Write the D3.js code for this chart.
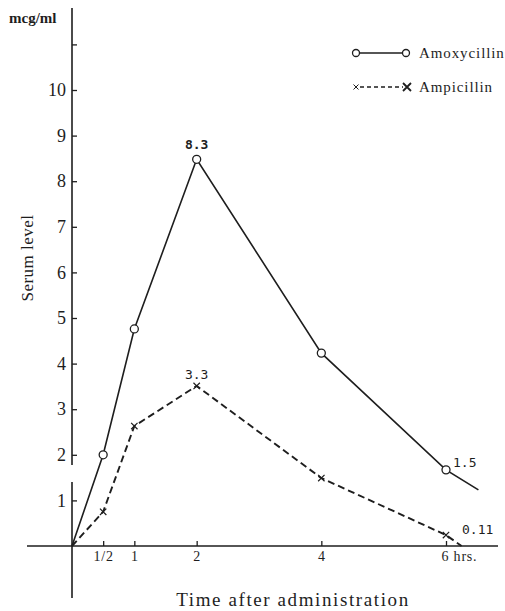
<!DOCTYPE html>
<html>
<head>
<meta charset="utf-8">
<script src="https://cdn.jsdelivr.net/npm/d3@7"></script>
<style>
  body { margin: 0; background: #fff; }
  svg { display: block; font-family: "Liberation Serif", "DejaVu Serif", serif; }
</style>
</head>
<body>
<svg id="chart" width="505" height="611"></svg>
<script>
// hours after administration and serum level (mcg/ml)
var amoxHours = [0, 0.5, 1, 2, 4, 6, 6.52];
var amoxLevel = [0, 2.0, 4.76, 8.48, 4.23, 1.67, 1.23];
var ampHours = [0, 0.5, 1, 2, 4, 6, 6.25];
var ampLevel = [0, 0.75, 2.63, 3.51, 1.49, 0.24, 0];

var xTicks = [0.5, 1, 2, 4, 6];
var xTickLabels = ['1/2', '1', '2', '4', '6 hrs.'];
var yTicks = [1, 2, 3, 4, 5, 6, 7, 8, 9, 10, 11];

// annotations: [hour, level, text]
var amoxNotes = [[2, 8.48, '8.3'], [6, 1.67, '1.5']];
var ampNotes = [[2, 3.51, '3.3'], [6, 0.24, '0.11']];

var ink = '#1e1e1e';

var x = d3.scaleLinear().domain([0, 6]).range([72, 446]);
var y = d3.scaleLinear().domain([0, 10]).range([546, 90]);

var svg = d3.select('#chart');

// y axis line, with the small break between 1 and 2
svg.append('line')
    .attr('x1', x(0)).attr('x2', x(0))
    .attr('y1', 8).attr('y2', 465)
    .attr('stroke', ink).attr('stroke-width', 1.6);
svg.append('line')
    .attr('x1', x(0)).attr('x2', x(0))
    .attr('y1', 482).attr('y2', 598)
    .attr('stroke', ink).attr('stroke-width', 1.6);

// x axis line
svg.append('line')
    .attr('x1', 27).attr('x2', 498)
    .attr('y1', y(0)).attr('y2', y(0))
    .attr('stroke', ink).attr('stroke-width', 1.6);

var yAxis = svg.append('g')
    .attr('transform', 'translate(' + x(0) + ',0)')
    .call(d3.axisLeft(y)
        .tickValues(yTicks)
        .tickSizeInner(-5)
        .tickSizeOuter(0)
        .tickPadding(6)
        .tickFormat(function(d) { return d === 11 ? '' : d; }));
yAxis.select('.domain').remove();
yAxis.selectAll('line').attr('stroke', ink).attr('stroke-width', 1.3);
yAxis.selectAll('text')
    .attr('font-family', '"Liberation Serif", serif')
    .attr('font-size', 18)
    .attr('fill', ink);

var xAxis = svg.append('g')
    .attr('transform', 'translate(0,' + y(0) + ')')
    .call(d3.axisBottom(x)
        .tickValues(xTicks)
        .tickSizeInner(-5)
        .tickSizeOuter(0)
        .tickPadding(5)
        .tickFormat(function(d, i) { return xTickLabels[i]; }));
xAxis.select('.domain').remove();
xAxis.selectAll('line').attr('stroke', ink).attr('stroke-width', 1.3);
xAxis.selectAll('text')
    .attr('font-family', '"Liberation Serif", serif')
    .attr('font-size', 14)
    .attr('fill', ink)
    .attr('letter-spacing', 0.8);
xAxis.selectAll('.tick').filter(function(d) { return d === 6; })
    .select('text')
    .attr('text-anchor', 'start')
    .attr('dx', -5);

// axis titles
svg.append('text')
    .attr('x', 9).attr('y', 23)
    .attr('font-size', 15)
    .attr('font-weight', 'bold')
    .attr('fill', ink)
    .text('mcg/ml');

svg.append('text')
    .attr('transform', 'translate(33,258) rotate(-90)')
    .attr('text-anchor', 'middle')
    .attr('font-size', 17)
    .attr('fill', ink)
    .attr('letter-spacing', 0.5)
    .text('Serum level');

svg.append('text')
    .attr('x', 293).attr('y', 606)
    .attr('text-anchor', 'middle')
    .attr('font-size', 19)
    .attr('fill', ink)
    .attr('letter-spacing', 1.6)
    .text('Time after administration');

var line = d3.line()
    .x(function(d) { return x(d[0]); })
    .y(function(d) { return y(d[1]); });

var amoxPts = d3.zip(amoxHours, amoxLevel);
var ampPts = d3.zip(ampHours, ampLevel);

svg.append('path')
    .datum(ampPts)
    .attr('d', line)
    .attr('fill', 'none')
    .attr('stroke', ink)
    .attr('stroke-width', 1.9)
    .attr('stroke-dasharray', '7,4');

svg.append('path')
    .datum(amoxPts)
    .attr('d', line)
    .attr('fill', 'none')
    .attr('stroke', ink)
    .attr('stroke-width', 1.6);

function cross(g, cx, cy, r, w) {
    g.append('path')
        .attr('d', 'M' + (cx - r) + ',' + (cy - r) + 'L' + (cx + r) + ',' + (cy + r) +
                   'M' + (cx - r) + ',' + (cy + r) + 'L' + (cx + r) + ',' + (cy - r))
        .attr('stroke', ink)
        .attr('stroke-width', w);
}

// markers (not at the origin nor at the trailing end)
svg.selectAll('circle.amox')
    .data(amoxPts.slice(1, 6))
    .enter().append('circle')
    .attr('class', 'amox')
    .attr('cx', function(d) { return x(d[0]); })
    .attr('cy', function(d) { return y(d[1]); })
    .attr('r', 4)
    .attr('fill', '#fff')
    .attr('stroke', ink)
    .attr('stroke-width', 1.3);

ampPts.slice(1, 6).forEach(function(d) {
    cross(svg, x(d[0]), y(d[1]), 3.2, 1.2);
});

// value annotations
function note(px, py, txt, anchor, bold) {
    svg.append('text')
        .attr('x', px).attr('y', py)
        .attr('text-anchor', anchor)
        .attr('font-family', '"DejaVu Sans Mono", monospace')
        .attr('font-weight', bold ? 'bold' : 'normal')
        .attr('font-size', 13)
        .attr('fill', ink)
        .text(txt);
}
note(x(amoxNotes[0][0]), y(amoxNotes[0][1]) - 10, amoxNotes[0][2], 'middle', true);
note(x(amoxNotes[1][0]) + 7, y(amoxNotes[1][1]) - 3, amoxNotes[1][2], 'start', false);
note(x(ampNotes[0][0]), y(ampNotes[0][1]) - 7, ampNotes[0][2], 'middle', false);
note(x(ampNotes[1][0]) + 16, y(ampNotes[1][1]) - 1, ampNotes[1][2], 'start', false);

// legend
var legend = svg.append('g');
legend.append('line')
    .attr('x1', 356).attr('x2', 406).attr('y1', 53).attr('y2', 53)
    .attr('stroke', ink).attr('stroke-width', 1.5);
[356, 406].forEach(function(cx) {
    legend.append('circle')
        .attr('cx', cx).attr('cy', 53).attr('r', 3.5)
        .attr('fill', '#fff').attr('stroke', ink).attr('stroke-width', 1.3);
});
legend.append('text')
    .attr('x', 419).attr('y', 58)
    .attr('font-size', 15)
    .attr('fill', ink)
    .attr('letter-spacing', 0.9)
    .text('Amoxycillin');

legend.append('line')
    .attr('x1', 360).attr('x2', 403).attr('y1', 87).attr('y2', 87)
    .attr('stroke', ink).attr('stroke-width', 1.5)
    .attr('stroke-dasharray', '4,3');
cross(legend, 356, 87, 2.5, 1);
cross(legend, 407, 87, 4, 1.8);
legend.append('text')
    .attr('x', 419).attr('y', 92)
    .attr('font-size', 15)
    .attr('fill', ink)
    .attr('letter-spacing', 0.9)
    .text('Ampicillin');
</script>
</body>
</html>
